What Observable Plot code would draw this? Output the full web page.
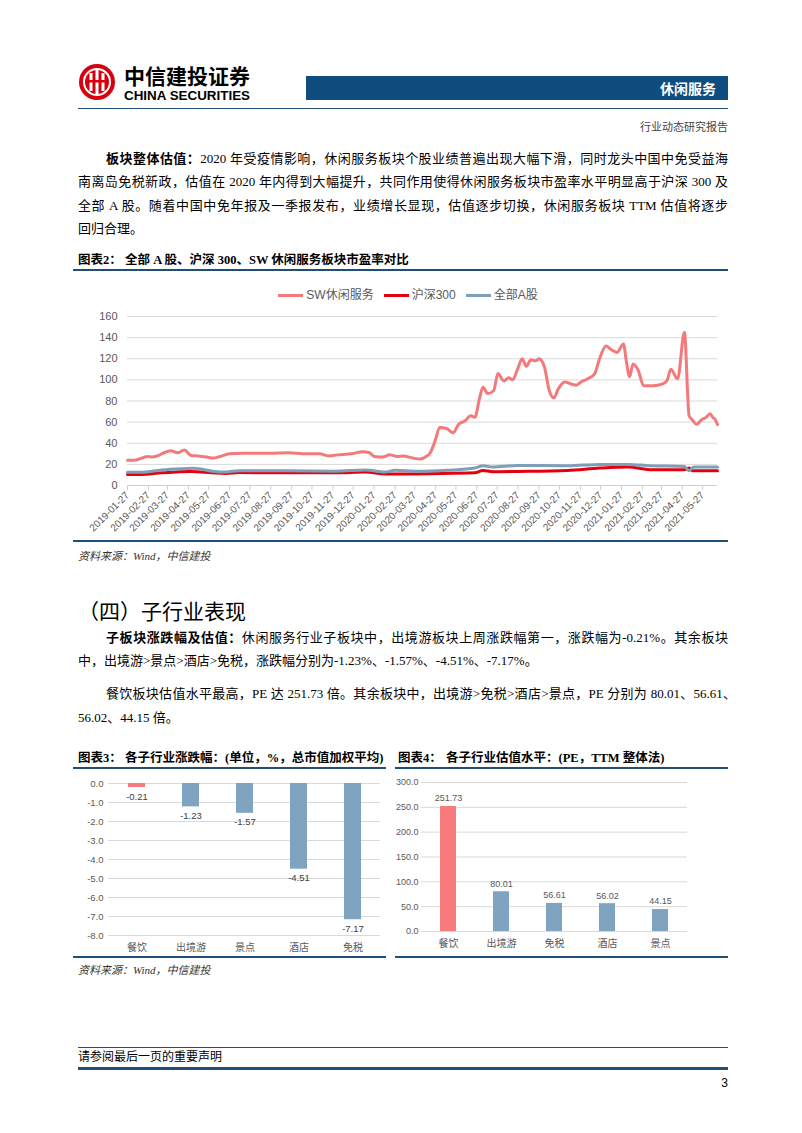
<!DOCTYPE html>
<html><head><meta charset="utf-8">
<script src="https://cdn.jsdelivr.net/npm/d3@7"></script>
<script src="https://cdn.jsdelivr.net/npm/@observablehq/plot@0.6"></script>
<style>
body{margin:0;background:#fff;width:802px;height:1133px;position:relative;overflow:hidden;font-family:"Liberation Serif","Noto Sans CJK SC",serif;color:#000;}
.abs{position:absolute;}
.ln{position:absolute;font-size:13px;line-height:20px;height:20px;text-align:justify;text-align-last:justify;overflow:visible;}
.ln.last{text-align:left;text-align-last:left;white-space:nowrap;}
.b{font-weight:bold;font-family:"Noto Sans CJK SC",sans-serif;}
.figt{position:absolute;font-size:12.5px;line-height:20px;font-weight:bold;white-space:nowrap;}
.rule{position:absolute;background:#1f4e79;}
.cap{position:absolute;font-size:11px;line-height:16px;font-style:italic;color:#333;white-space:nowrap;}
.legend{position:absolute;left:78px;width:660px;top:284px;height:18px;display:flex;justify-content:center;align-items:center;gap:10px;font-family:"Liberation Sans","Noto Sans CJK SC",sans-serif;font-size:12px;color:#595959;}
.legend span.sw{display:inline-block;width:25px;height:3px;margin-right:3px;vertical-align:middle;}
</style></head>
<body>
<!-- header -->
<svg class="abs" style="left:76px;top:60px" width="186" height="50">
  <circle cx="21" cy="22" r="18" fill="#d7000f"/>
  <circle cx="21" cy="22" r="13" fill="none" stroke="#fff" stroke-width="2"/>
  <rect x="13.5" y="13" width="3" height="18" fill="#fff"/>
  <rect x="19.5" y="10" width="3" height="24" fill="#fff"/>
  <rect x="25.5" y="13" width="3" height="18" fill="#fff"/>
  <rect x="11" y="20" width="20" height="2.5" fill="#d7000f"/>
  <text x="48" y="24" font-family="Noto Sans CJK SC" font-weight="bold" font-size="21" textLength="126" lengthAdjust="spacingAndGlyphs">中信建投证券</text>
  <text x="48" y="40" font-family="Liberation Sans" font-weight="bold" font-size="13.5" textLength="126" lengthAdjust="spacingAndGlyphs">CHINA SECURITIES</text>
</svg>
<div class="abs" style="left:306px;top:76px;width:422px;height:24px;background:#0f4d7e;"></div>
<div class="abs" style="left:306px;top:76px;width:410px;height:24px;line-height:24px;text-align:right;color:#fff;font-family:'Noto Sans CJK SC',sans-serif;font-weight:bold;font-size:14px;">休闲服务</div>
<div class="rule" style="left:78px;top:108px;width:650px;height:1px;"></div>
<div class="abs" style="left:528px;width:200px;top:119px;text-align:right;font-size:11px;line-height:16px;color:#444;">行业动态研究报告</div>

<!-- paragraph 1 -->
<div class="ln" style="left:106px;width:622px;top:148px;"><span class="b">板块整体估值：</span>2020 年受疫情影响，休闲服务板块个股业绩普遍出现大幅下滑，同时龙头中国中免受益海</div>
<div class="ln" style="left:78px;width:650px;top:172px;">南离岛免税新政，估值在 2020 年内得到大幅提升，共同作用使得休闲服务板块市盈率水平明显高于沪深 300 及</div>
<div class="ln" style="left:78px;width:650px;top:196px;">全部 A 股。随着中国中免年报及一季报发布，业绩增长显现，估值逐步切换，休闲服务板块 TTM 估值将逐步</div>
<div class="ln last" style="left:78px;width:650px;top:219px;">回归合理。</div>

<!-- figure 2 -->
<div class="figt" style="left:78px;top:250px;">图表2：</div>
<div class="figt" style="left:125px;top:250px;">全部 A 股、沪深 300、SW 休闲服务板块市盈率对比</div>
<div class="rule" style="left:73px;top:269px;width:655px;height:2px;"></div>
<div class="legend">
  <div><span class="sw" style="background:#f4797b"></span>SW休闲服务</div>
  <div><span class="sw" style="background:#e3000f"></span>沪深300</div>
  <div><span class="sw" style="background:#7f9fb8"></span>全部A股</div>
</div>
<div id="lineChart" class="abs" style="left:70px;top:305px;"></div>
<div class="rule" style="left:73px;top:540px;width:655px;height:2px;"></div>
<div class="cap" style="left:78px;top:548px;">资料来源：Wind，中信建投</div>

<!-- section -->
<div class="abs" style="left:78px;top:595px;font-family:'Noto Sans CJK SC',sans-serif;font-size:21px;line-height:30px;">（四）子行业表现</div>
<div class="ln" style="left:106px;width:622px;top:627px;"><span class="b">子板块涨跌幅及估值：</span>休闲服务行业子板块中，出境游板块上周涨跌幅第一，涨跌幅为-0.21%。其余板块</div>
<div class="ln last" style="left:78px;width:650px;top:651px;">中，出境游&gt;景点&gt;酒店&gt;免税，涨跌幅分别为-1.23%、-1.57%、-4.51%、-7.17%。</div>
<div class="ln" style="left:106px;width:630px;top:684px;">餐饮板块估值水平最高，PE 达 251.73 倍。其余板块中，出境游&gt;免税&gt;酒店&gt;景点，PE 分别为 80.01、56.61、</div>
<div class="ln last" style="left:78px;width:650px;top:708px;">56.02、44.15 倍。</div>

<!-- figure 3/4 -->
<div class="figt" style="left:78px;top:748px;">图表3：</div>
<div class="figt" style="left:125px;top:748px;">各子行业涨跌幅：(单位，%，总市值加权平均)</div>
<div class="figt" style="left:398px;top:748px;">图表4：</div>
<div class="figt" style="left:446px;top:748px;">各子行业估值水平：(PE，TTM 整体法)</div>
<div class="rule" style="left:73px;top:767px;width:313px;height:2px;"></div>
<div class="rule" style="left:395px;top:767px;width:333px;height:2px;"></div>
<div id="bar3" class="abs" style="left:70px;top:775px;"></div>
<div id="bar4" class="abs" style="left:390px;top:775px;"></div>
<div class="rule" style="left:73px;top:956px;width:313px;height:2px;"></div>
<div class="rule" style="left:395px;top:956px;width:333px;height:2px;"></div>
<div class="cap" style="left:78px;top:962px;">资料来源：Wind，中信建投</div>

<!-- footer -->
<div class="rule" style="left:78px;top:1047px;width:650px;height:1px;"></div>
<div class="abs" style="left:78px;top:1049px;font-size:12px;line-height:16px;">请参阅最后一页的重要声明</div>
<div class="rule" style="left:78px;top:1067px;width:650px;height:3px;"></div>
<div class="abs" style="left:628px;width:100px;top:1075px;text-align:right;font-size:12px;line-height:16px;font-family:'Liberation Sans',sans-serif;">3</div>

<script>
// ---------- data: figure 2 ----------
const seriesNames = ["SW休闲服务", "沪深300", "全部A股"];
const swDates = ["2019-01-27","2019-02-06","2019-02-26","2019-03-05","2019-03-12","2019-03-22","2019-04-01","2019-04-11","2019-04-21","2019-05-01","2019-05-11","2019-05-24","2019-06-03","2019-06-13","2019-06-27","2019-07-17","2019-08-06","2019-08-26","2019-09-22","2019-10-18","2019-11-07","2019-11-21","2019-12-04","2019-12-24","2020-01-10","2020-01-20","2020-01-27","2020-02-09","2020-02-19","2020-03-01","2020-03-10","2020-03-24","2020-04-03","2020-04-13","2020-04-19","2020-04-26","2020-05-03","2020-05-13","2020-05-23","2020-05-31","2020-06-09","2020-06-18","2020-06-24","2020-07-01","2020-07-06","2020-07-13","2020-07-22","2020-07-28","2020-08-06","2020-08-13","2020-08-19","2020-08-26","2020-09-02","2020-09-08","2020-09-15","2020-09-22","2020-09-27","2020-10-05","2020-10-12","2020-10-19","2020-10-25","2020-11-04","2020-11-14","2020-11-21","2020-11-28","2020-12-08","2020-12-18","2020-12-26","2021-01-04","2021-01-11","2021-01-20","2021-01-30","2021-02-03","2021-02-08","2021-02-13","2021-02-20","2021-03-01","2021-03-15","2021-03-28","2021-04-04","2021-04-10","2021-04-20","2021-04-30","2021-05-07","2021-05-12","2021-05-18","2021-05-25","2021-06-01","2021-06-07","2021-06-11","2021-06-15","2021-06-18"];
const swValues = [24,24,27.5,27,28,31,33,31,33.5,28.5,28,27,26,27.5,30,30.5,30.5,30.5,31,30,30,28,29,30,32,31,27.5,27,29,27.5,28,26,25,27.5,31,42,55,54,50,58,61,66,64.5,83,93,87,90,106,99,102,100,110,120,113,119,118,120,112,90,83,91,98,96,95,98,101,105.5,121,132,129,126,134,118,103,115,110,94.5,94.5,96,99,110,101,145,66,62,58,62,64.5,68,64.5,62,57.6];
const hsDates = ["2019-01-27","2019-02-16","2019-03-19","2019-05-01","2019-06-01","2019-06-22","2019-07-11","2019-09-18","2019-12-01","2020-01-14","2020-02-12","2020-03-20","2020-04-01","2020-06-24","2020-07-06","2020-07-20","2020-08-26","2020-11-08","2020-12-26","2021-02-06","2021-03-10","2021-04-30","2021-05-07","2021-05-12","2021-06-18"];
const hsValues = [10.5,10.5,12,13.2,12,11.3,12.2,12,12,12.8,11,10.8,11,12,14.3,13,13.3,14.3,16.5,17.5,15,15,16.5,14,14];
const aDates = ["2019-01-27","2019-02-16","2019-03-19","2019-04-24","2019-05-05","2019-06-01","2019-06-22","2019-07-11","2019-09-18","2019-12-01","2020-01-14","2020-02-12","2020-02-27","2020-04-01","2020-05-15","2020-06-24","2020-07-06","2020-07-20","2020-08-26","2020-11-08","2020-12-26","2021-02-06","2021-03-10","2021-04-30","2021-05-07","2021-05-14","2021-06-18"];
const aValues = [12.5,12.5,14.7,16,16.3,13.6,12.8,14,14,13.6,14.7,12.8,14.5,13.5,14.5,16.5,18.7,17.5,19,18.7,20,20,18.7,18,14,17.5,17.5];
const lineYTicks = [0,20,40,60,80,100,120,140,160];
const lineXTickLabels = ["2019-01-27","2019-02-27","2019-03-27","2019-04-27","2019-05-27","2019-06-27","2019-07-27","2019-08-27","2019-09-27","2019-10-27","2019-11-27","2019-12-27","2020-01-27","2020-02-27","2020-03-27","2020-04-27","2020-05-27","2020-06-27","2020-07-27","2020-08-27","2020-09-27","2020-10-27","2020-11-27","2020-12-27","2021-01-27","2021-02-27","2021-03-27","2021-04-27","2021-05-27"];

// ---------- data: figure 3 ----------
const changeCats = ["餐饮","出境游","景点","酒店","免税"];
const changeValues = [-0.21,-1.23,-1.57,-4.51,-7.17];
const changeYTicks = [-8,-7,-6,-5,-4,-3,-2,-1,0];

// ---------- data: figure 4 ----------
const peCats = ["餐饮","出境游","免税","酒店","景点"];
const peValues = [251.73,80.01,56.61,56.02,44.15];
const peYTicks = [0,50,100,150,200,250,300];

const parse = d3.utcParse("%Y-%m-%d");
const colors = {"SW休闲服务":"#f4797b","沪深300":"#e3000f","全部A股":"#7f9fb8"};
const mk = (dates, vals, name) => dates.map((d,i)=>({date:parse(d), value:vals[i], series:name}));
const swRows = mk(swDates, swValues, seriesNames[0]);
const hsRows = mk(hsDates, hsValues, seriesNames[1]);
const aRows = mk(aDates, aValues, seriesNames[2]);
const sans = '"Liberation Sans","Noto Sans CJK SC",sans-serif';

const lineChart = Plot.plot({
  width: 660, height: 235,
  marginLeft: 57, marginRight: 13, marginTop: 11, marginBottom: 55,
  style: {fontFamily: sans, color: "#595959", background: "transparent", overflow: "visible"},
  x: {type: "utc", domain: [parse("2019-01-27"), parse("2021-06-18")]},
  y: {domain: [0, 160]},
  marks: [
    Plot.gridY(lineYTicks, {stroke: "#d9d9d9", strokeOpacity: 1}),
    Plot.axisY(lineYTicks, {tickSize: 0, tickPadding: 10, fontSize: 11, label: null}),
    Plot.ruleY([0], {stroke: "#d0d0d0"}),
    Plot.axisX(lineXTickLabels.map(parse), {tickRotate: -45, tickFormat: d3.utcFormat("%Y-%m-%d"), tickSize: 5, stroke: "#d0d0d0", strokeOpacity: 1, tickPadding: 3, fontSize: 10, label: null}),
    Plot.line(swRows, {x: "date", y: "value", stroke: colors["SW休闲服务"], strokeWidth: 3, curve: "monotone-x"}),
    Plot.line(hsRows, {x: "date", y: "value", stroke: colors["沪深300"], strokeWidth: 3, curve: "monotone-x"}),
    Plot.line(aRows, {x: "date", y: "value", stroke: colors["全部A股"], strokeWidth: 3, curve: "monotone-x"})
  ]
});
document.getElementById("lineChart").append(lineChart);

const changeRows = changeCats.map((c,i)=>({cat:c, v:changeValues[i]}));
const bar3 = Plot.plot({
  width: 316, height: 185,
  marginLeft: 38, marginRight: 6, marginTop: 8, marginBottom: 25,
  style: {fontFamily: sans, color: "#595959", background: "transparent", overflow: "visible"},
  x: {domain: changeCats, paddingInner: 0.69, paddingOuter: 0.345},
  y: {domain: [-8, 0]},
  marks: [
    Plot.gridY(changeYTicks, {stroke: "#d9d9d9", strokeOpacity: 1}),
    Plot.axisY(changeYTicks, {tickSize: 0, tickPadding: 5, fontSize: 9.5, tickFormat: d => d.toFixed(1), label: null}),
    Plot.axisX({tickSize: 0, tickPadding: 8, fontSize: 10, label: null}),
    Plot.barY(changeRows, {x: "cat", y: "v", fill: d => d.cat === "餐饮" ? "#f77b7d" : "#7ea4c2"}),
    Plot.text(changeRows, {x: "cat", y: "v", text: d => d.v.toFixed(2), dy: 9, fontSize: 9.5, fill: "#404040"})
  ]
});
document.getElementById("bar3").append(bar3);

const peRows = peCats.map((c,i)=>({cat:c, v:peValues[i]}));
const bar4 = Plot.plot({
  width: 340, height: 185,
  marginLeft: 31, marginRight: 43, marginTop: 7, marginBottom: 29,
  style: {fontFamily: sans, color: "#595959", background: "transparent", overflow: "visible"},
  x: {domain: peCats, paddingInner: 0.7, paddingOuter: 0.35},
  y: {domain: [0, 300]},
  marks: [
    Plot.gridY(peYTicks, {stroke: "#d9d9d9", strokeOpacity: 1}),
    Plot.axisY(peYTicks, {tickSize: 0, tickPadding: 3, fontSize: 9, tickFormat: d => d.toFixed(1), label: null}),
    Plot.axisX({tickSize: 0, tickPadding: 8, fontSize: 10, label: null}),
    Plot.barY(peRows, {x: "cat", y: "v", fill: d => d.cat === "餐饮" ? "#f77b7d" : "#7ea4c2"}),
    Plot.text(peRows, {x: "cat", y: "v", text: d => d.v.toFixed(2), dy: -8, fontSize: 9, fill: "#595959"})
  ]
});
document.getElementById("bar4").append(bar4);
</script>
</body></html>
